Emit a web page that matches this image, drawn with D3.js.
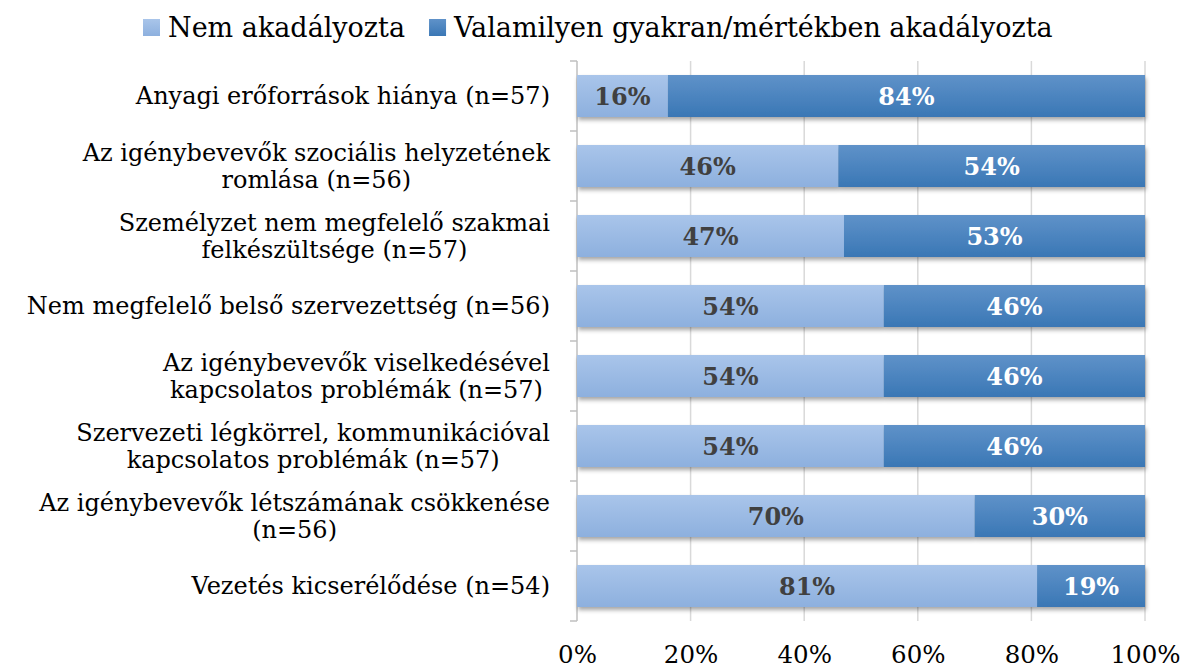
<!DOCTYPE html>
<html lang="hu">
<head>
<meta charset="UTF-8">
<title>Akadályozó tényezők</title>
<script src="https://d3js.org/d3.v7.min.js"></script>
<style>
    body { margin: 0; background: #fff; }
    text { font-family: "DejaVu Serif", serif; }
    .cat { font-size: 24px; fill: #000; }
    .tick text { font-size: 24.5px; fill: #000; }
    .val { font-size: 24px; font-weight: bold; }
    .legend text { font-size: 27px; fill: #000; }
</style>
</head>
<body>
<script>
// kategóriák (sortörésekkel, ahogy a képen)
const categories = [
    ["Anyagi erőforrások hiánya (n=57)"],
    ["Az igénybevevők szociális helyzetének", "romlása (n=56)"],
    ["Személyzet nem megfelelő szakmai", "felkészültsége (n=57)"],
    ["Nem megfelelő belső szervezettség (n=56)"],
    ["Az igénybevevők viselkedésével", "kapcsolatos problémák (n=57)"],
    ["Szervezeti légkörrel, kommunikációval", "kapcsolatos problémák (n=57)"],
    ["Az igénybevevők létszámának csökkenése", "(n=56)"],
    ["Vezetés kicserélődése (n=54)"]
];
const nemValues = [16, 46, 47, 54, 54, 54, 70, 81];
const valamilyenValues = [84, 54, 53, 46, 46, 46, 30, 19];
const seriesNames = ["Nem akadályozta", "Valamilyen gyakran/mértékben akadályozta"];
const xTicks = [0, 20, 40, 60, 80, 100];

const width = 1189, height = 671;
const margin = {top: 61, right: 44, bottom: 50, left: 577};

const svg = d3.select("body").append("svg")
    .attr("width", width)
    .attr("height", height);

const defs = svg.append("defs");
function grad(id, top, bottom) {
    const g = defs.append("linearGradient").attr("id", id)
        .attr("x1", 0).attr("y1", 0).attr("x2", 0).attr("y2", 1);
    g.append("stop").attr("offset", "0%").attr("stop-color", top);
    g.append("stop").attr("offset", "100%").attr("stop-color", bottom);
}
grad("gLight", "#a9c5ea", "#8db0de");
grad("gDark", "#5f92c9", "#3a77b5");
defs.append("filter").attr("id", "shadow")
    .attr("x", "-5%").attr("y", "-20%").attr("width", "110%").attr("height", "160%")
    .append("feDropShadow")
    .attr("dx", 1).attr("dy", 3).attr("stdDeviation", 2)
    .attr("flood-color", "#000").attr("flood-opacity", 0.35);

const x = d3.scaleLinear().domain([0, 100]).range([margin.left, width - margin.right]);
const y = d3.scaleBand().domain(d3.range(categories.length))
    .range([margin.top, height - margin.bottom]).paddingInner(0.4).paddingOuter(0.2);
const step = y.step();

// rácsvonalak
svg.append("g").selectAll("line")
    .data(xTicks.slice(1))
    .join("line")
    .attr("x1", d => x(d)).attr("x2", d => x(d))
    .attr("y1", margin.top).attr("y2", height - margin.bottom)
    .attr("stroke", "#d9d9d9").attr("stroke-width", 1.5);

// x tengely feliratok
svg.append("g")
    .attr("transform", `translate(0,${height - margin.bottom})`)
    .call(d3.axisBottom(x).tickValues(xTicks).tickFormat(d => d + "%").tickSize(0).tickPadding(25))
    .call(g => g.select(".domain").remove());

// y tengely vonal + osztások
const yAxis = svg.append("g");
yAxis.append("line")
    .attr("x1", margin.left).attr("x2", margin.left)
    .attr("y1", margin.top).attr("y2", height - margin.bottom)
    .attr("stroke", "#bfbfbf").attr("stroke-width", 1.5);
yAxis.selectAll(".yt")
    .data(d3.range(categories.length + 1))
    .join("line")
    .attr("x1", margin.left - 7).attr("x2", margin.left)
    .attr("y1", i => margin.top + i * step).attr("y2", i => margin.top + i * step)
    .attr("stroke", "#bfbfbf").attr("stroke-width", 1.5);

// sávok
const rows = svg.append("g").selectAll("g")
    .data(categories.map((c, i) => ({i, nem: nemValues[i], val: valamilyenValues[i]})))
    .join("g")
    .attr("filter", "url(#shadow)");

rows.append("rect")
    .attr("x", x(0))
    .attr("y", d => y(d.i))
    .attr("width", d => x(d.nem) - x(0))
    .attr("height", y.bandwidth())
    .attr("fill", "url(#gLight)");
rows.append("rect")
    .attr("x", d => x(d.nem))
    .attr("y", d => y(d.i))
    .attr("width", d => x(d.nem + d.val) - x(d.nem))
    .attr("height", y.bandwidth())
    .attr("fill", "url(#gDark)");

// értékcímkék
const labels = svg.append("g");
labels.selectAll(".vn")
    .data(nemValues)
    .join("text")
    .attr("class", "val")
    .attr("x", d => x(d / 2))
    .attr("y", (d, i) => y(i) + y.bandwidth() / 2)
    .attr("dy", "0.36em")
    .attr("text-anchor", "middle")
    .attr("fill", "#404040")
    .text(d => d + "%");
labels.selectAll(".vv")
    .data(valamilyenValues)
    .join("text")
    .attr("class", "val")
    .attr("x", (d, i) => x(nemValues[i] + d / 2))
    .attr("y", (d, i) => y(i) + y.bandwidth() / 2)
    .attr("dy", "0.36em")
    .attr("text-anchor", "middle")
    .attr("fill", "#fff")
    .text(d => d + "%");

// kategória feliratok (többsoros blokk jobbra igazítva, sorok középre)
const lineH = 27.5;
categories.forEach((lines, i) => {
    const cy = y(i) + y.bandwidth() / 2;
    const t = svg.append("text").attr("class", "cat").attr("text-anchor", "middle");
    lines.forEach((s, k) => {
        t.append("tspan")
            .attr("y", cy + (k - (lines.length - 1) / 2) * lineH)
            .attr("dy", "0.35em")
            .text(s);
    });
    const w = d3.max(t.selectAll("tspan").nodes(), n => n.getComputedTextLength());
    t.selectAll("tspan").attr("x", margin.left - 27 - w / 2);
});

// jelmagyarázat
const legend = svg.append("g").attr("class", "legend");
let lx = 143;
seriesNames.forEach((name, i) => {
    legend.append("rect")
        .attr("x", lx).attr("y", 19).attr("width", 17).attr("height", 17)
        .attr("fill", i === 0 ? "url(#gLight)" : "url(#gDark)");
    const t = legend.append("text")
        .attr("x", lx + 25).attr("y", 28).attr("dy", "0.35em")
        .text(name);
    lx += 25 + t.node().getComputedTextLength() + 24;
});
</script>
</body>
</html>
